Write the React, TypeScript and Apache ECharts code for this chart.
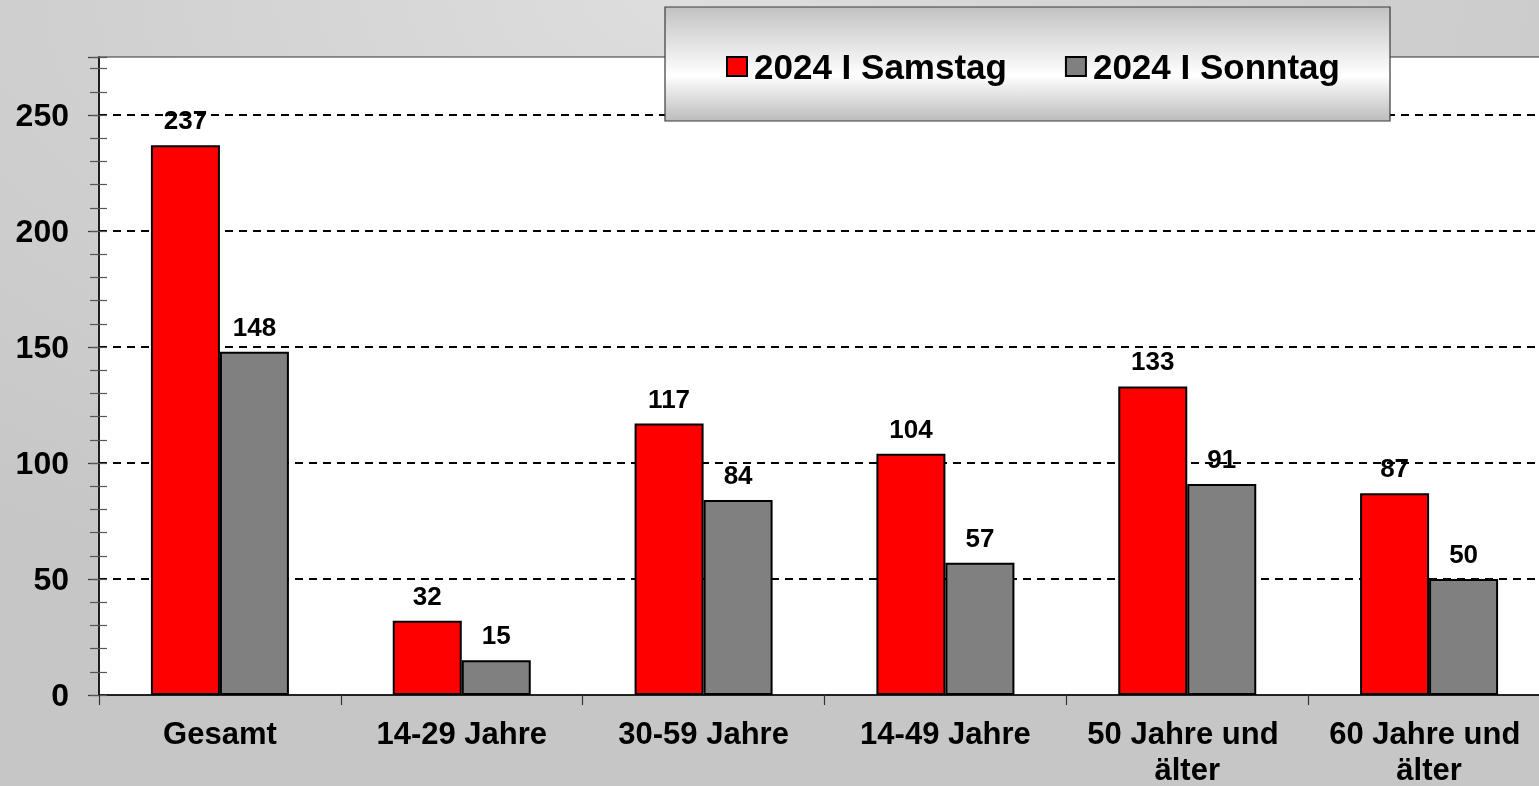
import React, { useEffect, useRef } from "react";
import * as echarts from "echarts";

const categories = ["Gesamt", "14-29 Jahre", "30-59 Jahre", "14-49 Jahre", "50 Jahre und älter", "60 Jahre und älter"];
const samstag = [237, 32, 117, 104, 133, 87];
const sonntag = [148, 15, 84, 57, 91, 50];
const seriesNames = ["2024 I Samstag", "2024 I Sonntag"];
const yMin = 0;
const yMax = 275;
const yInterval = 50;
const yMinorInterval = 10;

const FONT = "'Liberation Sans', Arial, sans-serif";

export default function App() {
  const ref = useRef<HTMLDivElement>(null);
  useEffect(() => {
    if (!ref.current) return;
    const chart = echarts.init(ref.current, null, { renderer: "svg" });
    const minorAxis = (inside: boolean, len: number) => ({
      type: "value",
      position: "left",
      min: yMin,
      max: yMax,
      interval: yMinorInterval,
      axisLine: { show: false },
      axisTick: { show: true, inside, length: len, lineStyle: { color: "#555", width: 1.2 } },
      axisLabel: { show: false },
      splitLine: { show: false },
    });
    chart.setOption({
      animation: false,
      backgroundColor: {
        type: "radial",
        x: 0.45,
        y: 0.0,
        r: 0.8,
        colorStops: [
          { offset: 0, color: "#dedede" },
          { offset: 0.5, color: "#d0d0d0" },
          { offset: 1, color: "#c6c6c6" },
        ],
      },
      textStyle: { fontFamily: FONT },
      grid: {
        left: 99,
        top: 57,
        height: 638,
        width: 1451,
        outerBoundsMode: "none",
        containLabel: false,
        show: true,
        backgroundColor: "#ffffff",
        borderColor: "#333333",
        borderWidth: 1.2,
      },
      graphic: [
        {
          type: "rect",
          z: 100,
          shape: { x: 665, y: 7, width: 725, height: 114 },
          style: {
            fill: {
              type: "linear",
              x: 0,
              y: 0,
              x2: 0,
              y2: 1,
              colorStops: [
                { offset: 0, color: "#c2c2c2" },
                { offset: 0.6, color: "#ffffff" },
                { offset: 1, color: "#bcbcbc" },
              ],
            },
            stroke: "#3a3a3a",
            lineWidth: 1.2,
          },
        },
      ],
      legend: {
        z: 101,
        left: 721,
        top: 44,
        itemWidth: 20,
        itemHeight: 19,
        itemGap: 58,
        icon: "rect",
        textStyle: { fontSize: 35, fontWeight: "bold", color: "#000", fontFamily: FONT, padding: [0, 0, 0, 2] },
        data: seriesNames,
      },
      xAxis: {
        type: "category",
        data: categories,
        axisLine: { lineStyle: { color: "#000", width: 1.5 } },
        axisTick: { show: true, length: 10, lineStyle: { color: "#333", width: 1.2 } },
        axisLabel: {
          fontSize: 31,
          fontWeight: "bold",
          color: "#000",
          fontFamily: FONT,
          margin: 20,
          lineHeight: 36,
          interval: 0,
          width: 230,
          overflow: "break",
        },
      },
      yAxis: [
        {
          type: "value",
          position: "left",
          min: yMin,
          max: yMax,
          interval: yInterval,
          axisLine: { show: true, lineStyle: { color: "#000", width: 1.5 } },
          axisTick: { show: true, length: 11, lineStyle: { color: "#333", width: 1.2 } },
          axisLabel: {
            fontSize: 32,
            fontWeight: "bold",
            color: "#000",
            fontFamily: FONT,
            margin: 30,
            formatter: (v: number) => (v % yInterval === 0 ? String(v) : ""),
          },
          splitLine: {
            show: true,
            showMaxLine: false,
            showMinLine: false,
            lineStyle: { color: "#000", width: 2, type: [8, 6] },
          },
        },
        minorAxis(false, 9),
        minorAxis(true, 8),
      ],
      series: [
        {
          name: seriesNames[0],
          type: "bar",
          data: samstag,
          barWidth: 69,
          barGap: "0%",
          itemStyle: { color: "#ff0000", borderColor: "#000", borderWidth: 2 },
          label: { show: true, position: "top", distance: 12, fontSize: 26, fontWeight: "bold", color: "#000", fontFamily: FONT },
        },
        {
          name: seriesNames[1],
          type: "bar",
          data: sonntag,
          barWidth: 69,
          barGap: "0%",
          itemStyle: { color: "#808080", borderColor: "#000", borderWidth: 2 },
          label: { show: true, position: "top", distance: 12, fontSize: 26, fontWeight: "bold", color: "#000", fontFamily: FONT },
        },
      ],
    });
    return () => chart.dispose();
  }, []);
  return (
    <div
      ref={ref}
      style={{ position: "fixed", left: 0, top: 0, width: 1539, height: 786 }}
    />
  );
}
